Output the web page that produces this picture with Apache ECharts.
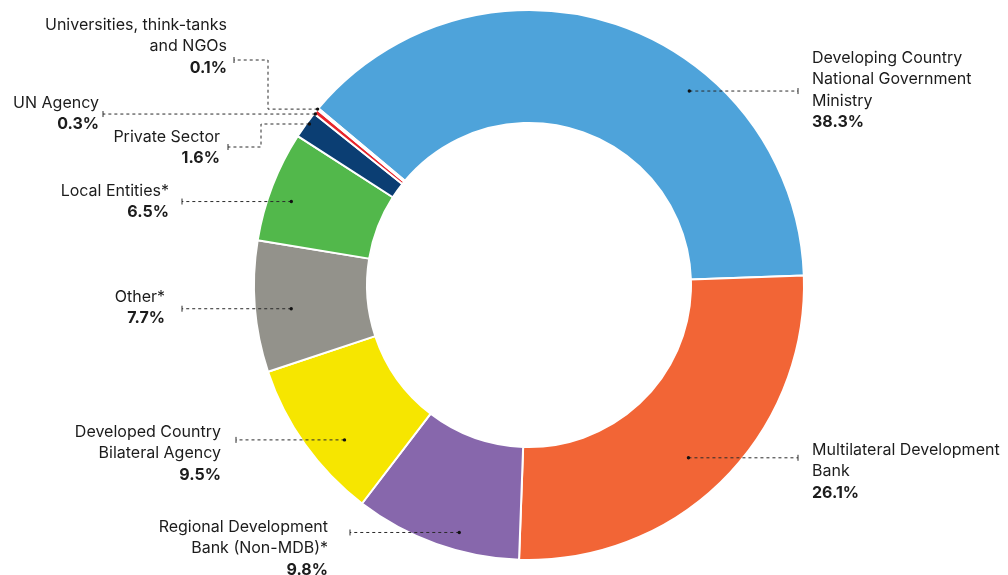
<!DOCTYPE html>
<html>
<head>
<meta charset="utf-8">
<script src="https://cdn.jsdelivr.net/npm/echarts@6/dist/echarts.min.js"></script>
<style>
  html, body { margin: 0; padding: 0; background: #ffffff; }
  #chart { width: 1008px; height: 575px; }
</style>
</head>
<body>
<div id="chart"></div>
<script>
// Share of funding by recipient type (percent)
const categories = [
  'Developing Country\nNational Government\nMinistry',
  'Multilateral Development\nBank',
  'Regional Development\nBank (Non-MDB)*',
  'Developed Country\nBilateral Agency',
  'Other*',
  'Local Entities*',
  'Private Sector',
  'UN Agency',
  'Universities, think-tanks\nand NGOs'
];
const shares = [38.3, 26.1, 9.8, 9.5, 7.7, 6.5, 1.6, 0.3, 0.1];
const sliceColors = [
  '#4ea3da', '#f26536', '#8767ac', '#f6e600', '#93928b',
  '#52b84b', '#0b3e73', '#e8252b', '#d9d9d9'
];

const LINE_H = 21.5;
const TEXT_COLOR = '#1c1c1c';
const LEADER_COLOR = '#2b2b2b';

// Leader lines: the dot sits inside its slice (fraction of the slice sweep,
// fraction of the outer radius); steps walk the dashed line to the text.
const leaders = [
  { at: 0.649, rad: 0.915, steps: [{ x: 798 }], tx: 812, ty: 58, side: 'left' },
  { at: 0.524, rad: 0.855, steps: [{ x: 798 }], tx: 812, ty: 450, side: 'left' },
  { at: 0.387, rad: 0.935, steps: [{ x: 350 }], tx: 328, ty: 527, side: 'right' },
  { at: 0.368, rad: 0.876, steps: [{ x: 236 }], tx: 221, ty: 432, side: 'right' },
  { at: 0.457, rad: 0.869, steps: [{ x: 182 }], tx: 165, ty: 297, side: 'right' },
  { at: 0.426, rad: 0.916, steps: [{ x: 182 }], tx: 169, ty: 191, side: 'right' },
  { at: 0.600, rad: 0.990, steps: [{ x: 261 }, { y: 147 }, { x: 228 }], tx: 220, ty: 137, side: 'right' },
  { at: 0.100, rad: 0.995, steps: [{ x: 103 }], tx: 99, ty: 103, side: 'right' },
  { at: 0.330, rad: 1.000, steps: [{ x: 268 }, { y: 60 }, { x: 234 }], tx: 227, ty: 25, side: 'right' }
];
const leaderPaths = [];

const chart = echarts.init(document.getElementById('chart'), null, { renderer: 'canvas' });

const baseText = { fontFamily: 'Inter', fontSize: 16, lineHeight: LINE_H, color: TEXT_COLOR };

function sliceLayout(i) {
  return chart.getModel().getSeriesByIndex(0).getData().getItemLayout(i);
}

function buildPath(i) {
  const L = leaders[i];
  const lay = sliceLayout(i);
  const a = lay.startAngle + L.at * (lay.endAngle - lay.startAngle);
  const r = lay.r * L.rad;
  let x = lay.cx + r * Math.cos(a);
  let y = lay.cy + r * Math.sin(a);
  const pts = [[x, y]];
  L.steps.forEach(function (s) {
    if (s.x !== undefined) { x = s.x; } else { y = s.y; }
    pts.push([x, y]);
  });
  return pts;
}

const option = {
  animation: false,
  backgroundColor: '#ffffff',
  series: [{
    type: 'pie',
    center: [529, 285],
    radius: [162, 275],
    startAngle: 140,
    clockwise: true,
    avoidLabelOverlap: false,
    silent: true,
    itemStyle: { borderColor: '#ffffff', borderWidth: 2 },
    data: categories.map(function (name, i) {
      return { name: name, value: shares[i], itemStyle: { color: sliceColors[i] } };
    }),
    label: {
      show: true,
      position: 'outside',
      width: 260,
      overflow: 'none',
      formatter: function (p) {
        const s = leaders[p.dataIndex].side === 'left' ? 'L' : 'R';
        const lines = p.name.split('\n').map(function (t) { return '{n' + s + '|' + t + '}'; });
        lines.push('{v' + s + '|' + shares[p.dataIndex].toFixed(1) + '%}');
        return lines.join('\n');
      },
      rich: {
        nL: Object.assign({}, baseText, { align: 'left' }),
        nR: Object.assign({}, baseText, { align: 'right' }),
        vL: Object.assign({}, baseText, { align: 'left', fontWeight: 'bold' }),
        vR: Object.assign({}, baseText, { align: 'right', fontWeight: 'bold' })
      }
    },
    // leaders are drawn above the ring as graphics below
    labelLine: { show: false },
    labelLayout: function (p) {
      const i = p.dataIndex;
      const L = leaders[i];
      leaderPaths[i] = buildPath(i);
      return {
        x: L.tx,
        y: L.ty - LINE_H / 2,
        align: L.side,
        verticalAlign: 'top'
      };
    }
  }]
};

chart.setOption(option);

// Dashed leader, dot at its start and a short tick where it meets the text
const marks = [];
categories.forEach(function (_, i) {
  const pts = leaderPaths[i] || buildPath(i);
  const start = pts[0];
  const end = pts[pts.length - 1];
  marks.push({
    type: 'polyline', z: 100, silent: true,
    shape: { points: pts },
    style: { stroke: LEADER_COLOR, lineWidth: 1, lineDash: [3, 3], fill: null }
  });
  marks.push({
    type: 'circle', z: 101, silent: true,
    shape: { cx: start[0], cy: start[1], r: 1.7 },
    style: { fill: '#111111' }
  });
  marks.push({
    type: 'line', z: 100, silent: true,
    shape: { x1: end[0], y1: end[1] - 3, x2: end[0], y2: end[1] + 3 },
    style: { stroke: LEADER_COLOR, lineWidth: 1 }
  });
});
chart.setOption({ graphic: { elements: marks } });
</script>
</body>
</html>
